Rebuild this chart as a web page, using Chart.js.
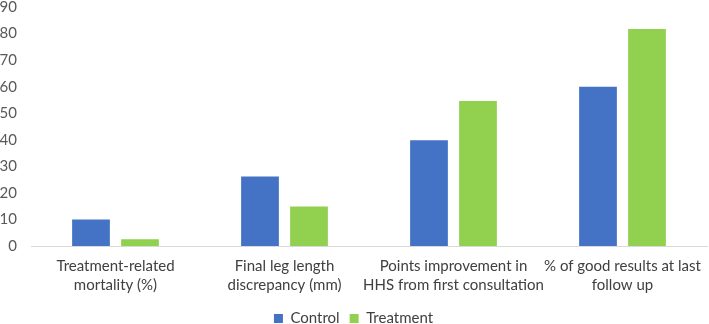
<!DOCTYPE html>
<html>
<head>
<meta charset="utf-8">
<script src="https://cdn.jsdelivr.net/npm/chart.js@4"></script>
<style>
html,body{margin:0;padding:0;background:#fff;}
#wrap{width:709px;height:324px;position:relative;}
</style>
</head>
<body>
<div id="wrap"><canvas id="c"></canvas></div>
<script>
const categories = [
  ["Treatment-related", "mortality (%)"],
  ["Final leg length", "discrepancy (mm)"],
  ["Points improvement in", "HHS from first consultation"],
  ["% of good results at last", "follow up"]
];
const seriesNames = ["Control", "Treatment"];
const controlValues = [10, 26.2, 39.8, 60];
const treatmentValues = [2.5, 14.9, 54.6, 81.7];
const yTicks = [0, 10, 20, 30, 40, 50, 60, 70, 80, 90];

const FONT = "Lato";
new Chart(document.getElementById('c'), {
  type: 'bar',
  data: {
    labels: categories,
    datasets: [
      { label: seriesNames[0], data: controlValues, backgroundColor: '#4472C4', categoryPercentage: 0.58, barPercentage: 0.77 },
      { label: seriesNames[1], data: treatmentValues, backgroundColor: '#92D050', categoryPercentage: 0.58, barPercentage: 0.77 }
    ]
  },
  options: {
    responsive: true,
    maintainAspectRatio: false,
    animation: false,
    layout: { padding: { left: 0, right: 2, top: 0, bottom: -12 } },
    plugins: {
      tooltip: { enabled: false },
      legend: {
        position: 'bottom',
        labels: {
          font: { family: FONT, size: 15 },
          color: '#404040',
          boxWidth: 9,
          boxHeight: 9,
          padding: 10
        }
      }
    },
    scales: {
      x: {
        grid: { display: false },
        border: { display: true, color: '#d9d9d9', width: 1 },
        afterFit: (axis) => { axis.height += 4; },
        ticks: {
          font: { family: FONT, size: 15, lineHeight: 1.3 },
          color: '#404040',
          padding: 2,
          maxRotation: 0,
          autoSkip: false
        }
      },
      y: {
        min: 0,
        max: 90,
        afterBuildTicks: (axis) => { axis.ticks = yTicks.map(v => ({ value: v })); },
        afterFit: (axis) => { axis.width = 31; axis.paddingTop = 7; },
        grid: { display: false },
        border: { display: false },
        ticks: {
          font: { family: FONT, size: 15 },
          color: '#595959',
          padding: 6
        }
      }
    }
  }
});
</script>
</body>
</html>
